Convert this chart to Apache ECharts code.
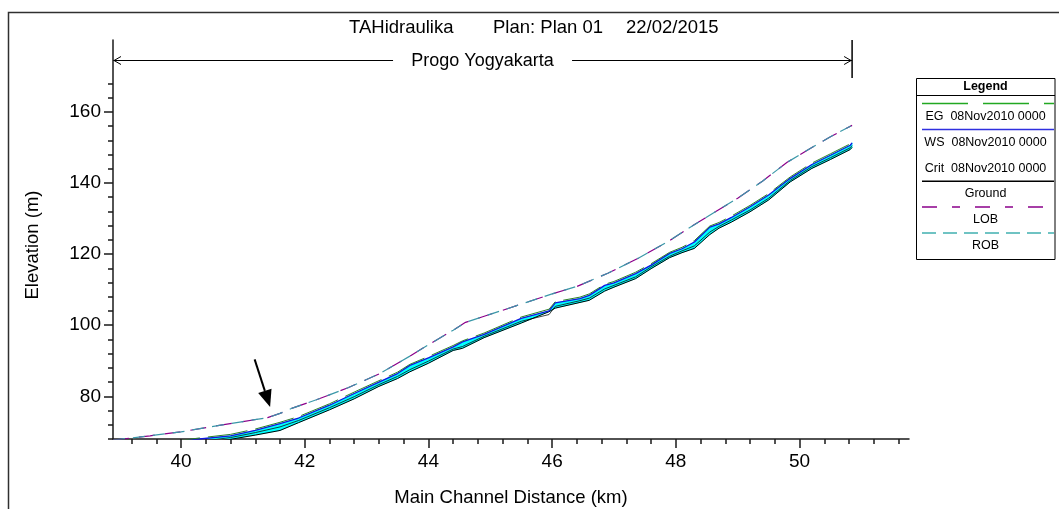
<!DOCTYPE html>
<html>
<head>
<meta charset="utf-8">
<script src="https://cdn.jsdelivr.net/npm/echarts@6.0.0/dist/echarts.min.js"></script>
<style>
  html, body { margin: 0; padding: 0; background: #ffffff; }
  #chart { width: 1059px; height: 509px; }
</style>
</head>
<body>
<div id="chart"></div>
<script>
// ── Profile data (km, m) ───────────────────────────────────────────────────
var chanKm = [38.9, 39.5, 40.0, 40.3, 40.8, 41.2, 41.6, 41.9, 42.4, 42.8, 43.2, 43.5, 43.7,
  44.0, 44.4, 44.55, 44.9, 45.5, 45.95, 46.05, 46.45, 46.6, 46.85, 47.0, 47.35, 47.6,
  47.9, 48.1, 48.3, 48.55, 48.7, 48.9, 49.2, 49.5, 49.85, 50.2, 50.5, 50.82, 50.85];
var ground = [63.0, 64.8, 66.5, 66.8, 67.9, 69.1, 70.4, 72.6, 76.2, 79.3, 82.8, 85.0, 86.9,
  89.3, 92.9, 93.5, 96.5, 100.6, 103.8, 104.8, 106.4, 107.0, 109.6, 110.7, 113.1, 115.9,
  119.0, 120.4, 121.6, 125.5, 127.3, 129.0, 131.9, 135.2, 140.3, 144.1, 146.6, 149.4, 150.0];
var crit = [63.5, 65.3, 66.9, 67.3, 68.4, 69.8, 71.4, 73.2, 76.8, 79.9, 83.3, 85.6, 87.5,
  89.9, 93.3, 94.0, 96.9, 101.1, 103.0, 105.3, 106.9, 107.6, 110.2, 111.2, 113.6, 116.4,
  119.4, 120.9, 122.3, 126.2, 127.8, 129.6, 132.4, 135.7, 140.7, 144.6, 147.1, 149.9, 150.5];
var ws = [64.2, 65.9, 67.3, 68.0, 68.9, 70.4, 72.3, 73.9, 77.5, 80.8, 84.0, 86.4, 88.7,
  90.8, 93.9, 95.3, 97.4, 101.9, 104.0, 106.3, 107.5, 108.4, 111.2, 111.9, 114.5, 116.9,
  120.2, 121.5, 123.4, 127.6, 128.5, 130.3, 133.3, 136.6, 141.3, 145.2, 147.8, 150.6, 151.3];
var eg = [64.5, 66.2, 67.6, 68.3, 69.3, 70.8, 72.7, 74.3, 77.9, 81.2, 84.4, 86.8, 89.0,
  91.2, 94.3, 95.6, 97.8, 102.3, 104.5, 106.6, 107.9, 108.8, 111.5, 112.3, 114.9, 117.3,
  120.5, 121.9, 123.8, 127.9, 128.9, 130.7, 133.7, 137.0, 141.7, 145.6, 148.2, 151.0, 151.6];

var bankKm = [38.9, 39.5, 40.0, 40.5, 41.0, 41.4, 41.6, 41.8, 42.2, 42.7, 43.2, 43.7, 44.0,
  44.4, 44.6, 45.2, 45.6, 46.0, 46.4, 46.9, 47.4, 47.9, 48.2, 48.6, 49.0, 49.4, 49.8,
  50.2, 50.5, 50.85];
var lob = [67.7, 68.9, 70.0, 71.5, 72.9, 74.0, 75.2, 76.7, 79.1, 82.4, 86.3, 91.3, 94.5,
  98.6, 100.8, 104.2, 106.5, 108.8, 110.9, 114.6, 118.9, 123.8, 127.2, 131.5, 135.7, 140.5,
  145.8, 150.0, 153.0, 156.2];
var rob = [67.7, 68.9, 70.0, 71.5, 72.9, 74.0, 75.2, 76.7, 79.1, 82.4, 86.3, 91.3, 94.5,
  98.6, 100.8, 104.2, 106.5, 108.8, 110.9, 114.6, 118.9, 123.8, 127.2, 131.5, 135.7, 140.5,
  145.8, 150.0, 153.0, 156.2];

// ── Axis ticks / labels ────────────────────────────────────────────────────
var xLabels = [40, 42, 44, 46, 48, 50];
var xMinorTicks = [39.2, 39.6, 40.0, 40.4, 40.8, 41.2, 41.6, 42.0, 42.4, 42.8, 43.2, 43.6,
  44.0, 44.4, 44.8, 45.2, 45.6, 46.0, 46.4, 46.8, 47.2, 47.6, 48.0, 48.4, 48.8, 49.2, 49.6,
  50.0, 50.4, 50.8, 51.2, 51.6];
var yLabels = [80, 100, 120, 140, 160];
var yMinorTicks = [68, 72, 76, 84, 88, 92, 96, 104, 108, 112, 116, 124, 128, 132, 136,
  144, 148, 152, 156, 164, 168];

// reach bracket + pointer arrow (data coords)
var reachName = 'Progo Yogyakarta';
var reachSpan = [38.9, 50.85];
var reachElev = 174.7;
var pointerFrom = [41.19, 90.4];
var pointerTo = [41.44, 77.0];

var legendRows = [
  { text: 'Legend' },
  { text: 'EG  08Nov2010 0000', color: '#22a822', dash: [46, 15] },
  { text: 'WS  08Nov2010 0000', color: '#3030e0', dash: 'solid' },
  { text: 'Crit  08Nov2010 0000', color: null },
  { text: 'Ground', color: '#000000', dash: 'solid' },
  { text: 'LOB', color: '#8b008b', dash: [15, 15, 8, 15] },
  { text: 'ROB', color: '#40b0b0', dash: [14, 7] }
];

var FONT = '"Liberation Sans", Arial, sans-serif';

function pairs(xs, ys) {
  return xs.map(function (x, i) { return [x, ys[i]]; });
}

function lineSeries(name, data, color, width, type, z) {
  return {
    name: name,
    type: 'line',
    data: data,
    symbol: 'none',
    silent: true,
    z: z,
    lineStyle: { color: color, width: width, type: type }
  };
}

// cyan water band between ground and WS, one quad per reach segment
function renderWater(params, api) {
  var i = params.dataIndex;
  if (i >= chanKm.length - 1) return null;
  var pts = [
    api.coord([chanKm[i], ws[i]]),
    api.coord([chanKm[i + 1], ws[i + 1]]),
    api.coord([chanKm[i + 1], ground[i + 1]]),
    api.coord([chanKm[i], ground[i]])
  ];
  return {
    type: 'polygon',
    shape: { points: pts },
    style: { fill: '#00ffff', stroke: '#00ffff', lineWidth: 0.6 }
  };
}

var chart = echarts.init(document.getElementById('chart'), null, { renderer: 'canvas' });

var axisLineStyle = { color: '#1a1a1a', width: 1.5 };

chart.setOption({
  animation: false,
  backgroundColor: '#ffffff',
  grid: { left: 113, right: 150, top: 40, bottom: 70 },
  xAxis: [{
    type: 'value',
    min: 38.9,
    max: 51.77,
    axisLine: { show: true, onZero: false, lineStyle: axisLineStyle },
    axisTick: { show: true, customValues: xLabels, length: 9, lineStyle: axisLineStyle },
    axisLabel: {
      customValues: xLabels, margin: 13, color: '#000', fontSize: 19, fontFamily: FONT
    },
    splitLine: { show: false }
  }, {
    type: 'value',
    min: 38.9,
    max: 51.77,
    position: 'bottom',
    axisLine: { show: false, onZero: false },
    axisTick: { show: true, customValues: xMinorTicks, length: 5, lineStyle: axisLineStyle },
    axisLabel: { show: false },
    splitLine: { show: false }
  }],
  yAxis: [{
    type: 'value',
    min: 68,
    max: 180.2,
    axisLine: { show: true, onZero: false, lineStyle: axisLineStyle },
    axisTick: { show: true, customValues: yLabels, length: 9, lineStyle: axisLineStyle },
    axisLabel: {
      customValues: yLabels, margin: 12, color: '#000', fontSize: 19, fontFamily: FONT
    },
    splitLine: { show: false }
  }, {
    type: 'value',
    min: 68,
    max: 180.2,
    position: 'left',
    axisLine: { show: false, onZero: false },
    axisTick: { show: true, customValues: yMinorTicks, length: 5, lineStyle: axisLineStyle },
    axisLabel: { show: false },
    splitLine: { show: false }
  }],
  series: [
    {
      name: 'water', type: 'custom', clip: true, silent: true, z: 2,
      data: chanKm.map(function (k, i) { return [k, ground[i], ws[i]]; }),
      encode: { x: 0, y: [1, 2] },
      renderItem: renderWater
    },
    lineSeries('Crit', pairs(chanKm, crit), '#111111', 0.8, 'solid', 3),
    lineSeries('Ground', pairs(chanKm, ground), '#000000', 1, 'solid', 3),
    lineSeries('WS', pairs(chanKm, ws), '#1414e0', 1.3, 'solid', 4),
    lineSeries('EG', pairs(chanKm, eg), '#2a7f2a', 1, [40, 8], 5),
    lineSeries('LOB', pairs(bankKm, lob), '#8b008b', 1.2, [16, 10], 3),
    lineSeries('ROB', pairs(bankKm, rob), '#3a98a8', 1.2, [12, 8], 4)
  ]
});

// ── Decorations: frame, title, axis names, legend, bracket, pointer ───────
function px(p) { return chart.convertToPixel({ gridIndex: 0 }, p); }

var g = [];

g.push({
  type: 'rect', silent: true, z: 0,
  shape: { x: 8.5, y: 12.5, width: 1100, height: 600 },
  style: { fill: null, stroke: '#303030', lineWidth: 1.5 }
});

[['TAHidraulika', 349], ['Plan: Plan 01', 493], ['22/02/2015', 626]].forEach(function (t) {
  g.push({
    type: 'text', silent: true, x: t[1], y: 28,
    style: { text: t[0], fill: '#000', font: '18.5px ' + FONT, align: 'left', verticalAlign: 'middle' }
  });
});

g.push({
  type: 'text', silent: true, x: 511, y: 498,
  style: { text: 'Main Channel Distance (km)', fill: '#000', font: '18.5px ' + FONT, align: 'center', verticalAlign: 'middle' }
});
g.push({
  type: 'text', silent: true, x: 33, y: 245, rotation: Math.PI / 2,
  style: { text: 'Elevation (m)', fill: '#000', font: '18.5px ' + FONT, align: 'center', verticalAlign: 'middle' }
});

// legend box
var lgX = 916.5, lgY = 78.5, lgW = 138.5, lgH = 181;
g.push({
  type: 'rect', silent: true,
  shape: { x: lgX, y: lgY, width: lgW, height: lgH },
  style: { fill: '#fff', stroke: '#000', lineWidth: 1 }
});
g.push({
  type: 'line', silent: true,
  shape: { x1: lgX, y1: 95.5, x2: lgX + lgW, y2: 95.5 },
  style: { stroke: '#000', lineWidth: 1 }
});
g.push({
  type: 'text', silent: true, x: 985.5, y: 86.5,
  style: { text: legendRows[0].text, fill: '#000', font: 'bold 12.5px ' + FONT, align: 'center', verticalAlign: 'middle' }
});
legendRows.slice(1).forEach(function (row, i) {
  var lineY = 103.5 + i * 25.9;
  if (row.color) {
    g.push({
      type: 'line', silent: true,
      shape: { x1: 922, y1: lineY, x2: 1054, y2: lineY },
      style: { stroke: row.color, lineWidth: 1.5, lineDash: row.dash === 'solid' ? null : row.dash }
    });
  }
  g.push({
    type: 'text', silent: true, x: 985.5, y: lineY + 12.8,
    style: { text: row.text, fill: '#000', font: '12.5px ' + FONT, align: 'center', verticalAlign: 'middle' }
  });
});

// reach bracket
var pA = px([reachSpan[0], reachElev]);
var pB = px([reachSpan[1], reachElev]);
var mid = (pA[0] + pB[0]) / 2;
var ly = Math.round(pA[1]) + 0.5;
var stroke = { stroke: '#000', lineWidth: 1 };
g.push({ type: 'line', silent: true, shape: { x1: pA[0], y1: ly, x2: mid - 89.5, y2: ly }, style: stroke });
g.push({ type: 'line', silent: true, shape: { x1: mid + 89.5, y1: ly, x2: pB[0], y2: ly }, style: stroke });
g.push({ type: 'line', silent: true, shape: { x1: pB[0], y1: 40, x2: pB[0], y2: 78 }, style: { stroke: '#000', lineWidth: 1.5 } });
g.push({ type: 'polyline', silent: true, shape: { points: [[pA[0] + 8, ly - 4], [pA[0] + 1, ly], [pA[0] + 8, ly + 4]] }, style: stroke });
g.push({ type: 'polyline', silent: true, shape: { points: [[pB[0] - 8, ly - 4], [pB[0] - 1, ly], [pB[0] - 8, ly + 4]] }, style: stroke });
g.push({
  type: 'text', silent: true, x: mid, y: ly + 1,
  style: { text: reachName, fill: '#000', font: '18px ' + FONT, align: 'center', verticalAlign: 'middle' }
});

// pointer arrow
var a0 = px(pointerFrom), a1 = px(pointerTo);
var ang = Math.atan2(a1[1] - a0[1], a1[0] - a0[0]);
var headLen = 17, headHalf = 7;
var bx = a1[0] - headLen * Math.cos(ang), by = a1[1] - headLen * Math.sin(ang);
g.push({
  type: 'line', silent: true,
  shape: { x1: a0[0], y1: a0[1], x2: bx, y2: by },
  style: { stroke: '#000', lineWidth: 2 }
});
g.push({
  type: 'polygon', silent: true,
  shape: { points: [
    [a1[0], a1[1]],
    [bx + headHalf * Math.sin(ang), by - headHalf * Math.cos(ang)],
    [bx - headHalf * Math.sin(ang), by + headHalf * Math.cos(ang)]
  ] },
  style: { fill: '#000' }
});

chart.setOption({ graphic: g });
</script>
</body>
</html>
